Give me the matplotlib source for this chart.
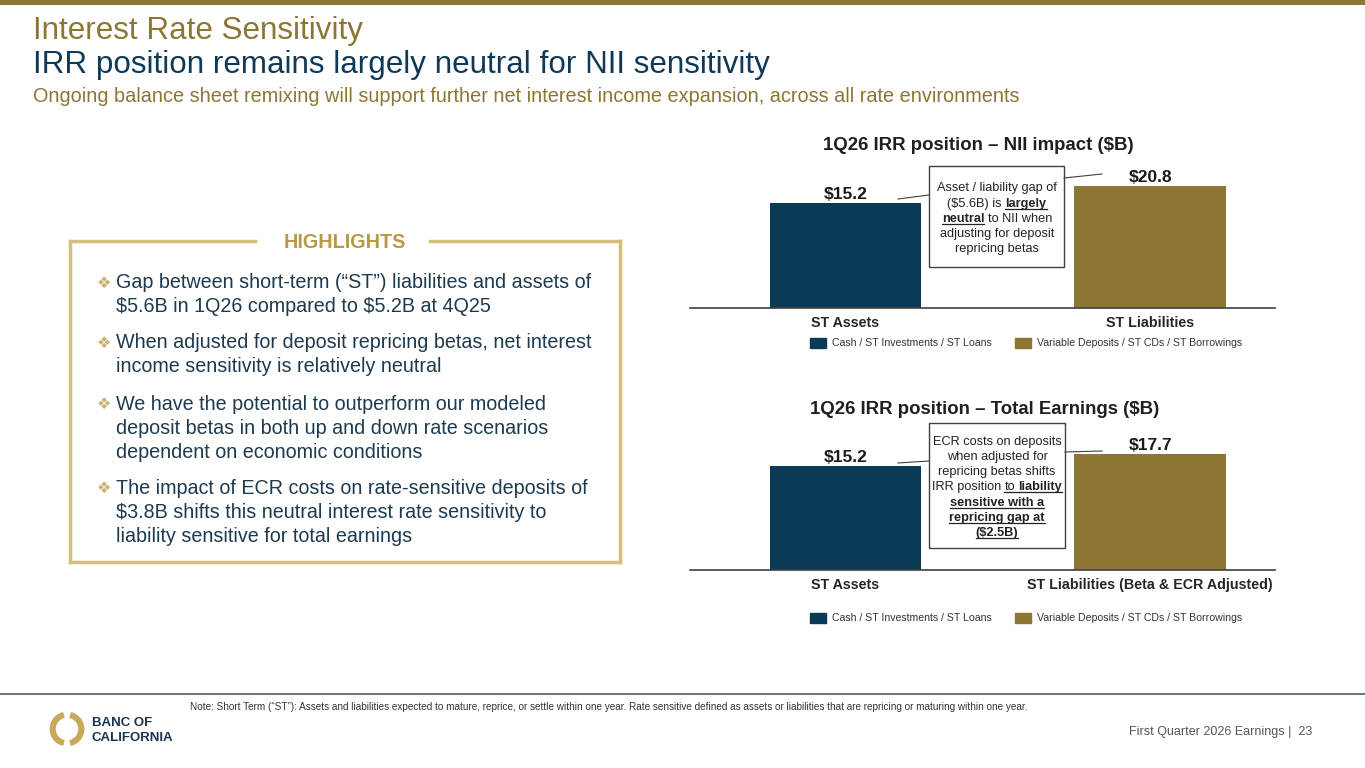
import matplotlib
matplotlib.use("Agg")
from matplotlib import pyplot as plt
from matplotlib.patches import Rectangle, Patch, Wedge
from matplotlib.lines import Line2D
import numpy as np

plt.rcParams['font.family'] = ['Liberation Sans', 'DejaVu Sans']
plt.rcParams['text.parse_math'] = False

# data
categories_nii = ['ST Assets', 'ST Liabilities']
values_nii = [15.2, 20.8]
categories_te = ['ST Assets', 'ST Liabilities (Beta & ECR Adjusted)']
values_te = [15.2, 17.7]
series_labels = ['Cash / ST Investments / ST Loans', 'Variable Deposits / ST CDs / ST Borrowings']

highlights = [
    ['Gap between short-term (\u201cST\u201d) liabilities and assets of',
     '$5.6B in 1Q26 compared to $5.2B at 4Q25'],
    ['When adjusted for deposit repricing betas, net interest',
     'income sensitivity is relatively neutral'],
    ['We have the potential to outperform our modeled',
     'deposit betas in both up and down rate scenarios',
     'dependent on economic conditions'],
    ['The impact of ECR costs on rate-sensitive deposits of',
     '$3.8B shifts this neutral interest rate sensitivity to',
     'liability sensitive for total earnings'],
]

# (text, bold, underline)
box_nii = [
    [('Asset / liability gap of', False, False)],
    [('($5.6B) is', False, False), ('largely', True, True)],
    [('neutral', True, True), ('to NII when', False, False)],
    [('adjusting for deposit', False, False)],
    [('repricing betas', False, False)],
]
box_te = [
    [('ECR costs on deposits', False, False)],
    [('when adjusted for', False, False)],
    [('repricing betas shifts', False, False)],
    [('IRR position', False, False), ('to', False, True), ('liability', True, True)],
    [('sensitive with a', True, True)],
    [('repricing gap at', True, True)],
    [('($2.5B)', True, True)],
]

NAVY = '#0B3A57'
GOLD = '#8C7634'
LIGHT_GOLD = '#D5BE7C'
TEXT = '#1E3A4F'

W, H = 1365, 768
fig = plt.figure(figsize=(13.65, 7.68), dpi=100)
renderer = fig.canvas.get_renderer()


def fx(x):
    return x / W


def fy(y):
    return 1 - y / H


def hline(x0, x1, y0, y1, color='#404040', lw=0.8):
    fig.add_artist(Line2D([fx(x0), fx(x1)], [fy(y0), fy(y1)], transform=fig.transFigure,
                          color=color, lw=lw))


def text_width(s, size, bold):
    t = fig.text(0, 0, s, size=size, weight='bold' if bold else 'normal')
    w = t.get_window_extent(renderer).width
    t.remove()
    return w


def rich_line(cx, y, pieces, size=9.2, color='#222222'):
    # y = baseline in pixels
    space = text_width('a a', size, False) - text_width('aa', size, False)
    widths = [text_width(p[0], size, p[1]) for p in pieces]
    total = sum(widths) + space * (len(pieces) - 1)
    x = cx - total / 2
    for i, (s, bold, ul) in enumerate(pieces):
        fig.text(fx(x), fy(y), s, size=size, weight='bold' if bold else 'normal',
                 color=color, ha='left', va='baseline')
        if ul:
            x_end = x + widths[i]
            if i + 1 < len(pieces) and pieces[i + 1][2]:
                x_end += space
            hline(x, x_end, y + 2, y + 2, color=color, lw=0.9)
        x += widths[i] + space


# top gold strip
fig.add_artist(Rectangle((0, fy(5)), 1, 5 / H, transform=fig.transFigure, color=GOLD, lw=0))

# titles
fig.text(fx(33), fy(31), 'Interest Rate Sensitivity', size=22.6, color=GOLD, va='center')
fig.text(fx(33), fy(65), 'IRR position remains largely neutral for NII sensitivity', size=22.6,
         color='#0E3A57', va='center')
fig.text(fx(33), fy(96), 'Ongoing balance sheet remixing will support further net interest income '
         'expansion, across all rate environments', size=14.3, color=GOLD, va='center')

# highlights box
for seg in [(70, 255, 241, 241), (430, 620, 241, 241), (70, 70, 241, 562),
            (620, 620, 241, 562), (70, 620, 562, 562)]:
    hline(seg[0], seg[1], seg[2], seg[3], color=LIGHT_GOLD, lw=2.5)
fig.text(fx(345), fy(242), 'HIGHLIGHTS', size=14.2, weight='bold', color='#B8994A',
         ha='center', va='center')
starts = [283, 343, 404, 488]
for lines, y0 in zip(highlights, starts):
    fig.text(fx(104), fy(y0), '\u2756', size=11.5, color='#C9B170', ha='center', va='center',
             family='DejaVu Sans')
    for k, line in enumerate(lines):
        fig.text(fx(116), fy(y0 + 24 * k), line, size=14.2, color=TEXT, va='center')


def bar_chart(top_px, base_px, floor, top_val, cats, vals, title, title_x, title_y, legend_y):
    ax = fig.add_axes([fx(690), fy(base_px), fx(1275) - fx(690), (base_px - top_px) / H])
    x = np.arange(len(cats))
    vals = np.array(vals)
    ax.bar(x, vals - floor, bottom=floor, width=0.497, color=[NAVY, GOLD])
    ax.set_xlim(-0.51, 1.41)
    ax.set_ylim(floor, top_val)
    for i, v in enumerate(vals):
        ax.annotate(f'${v:.1f}', (i, v), xytext=(0, 0.5), textcoords='offset points',
                    ha='center', va='bottom', size=12.5, weight='bold', color='#1A1A1A')
    for s in ['top', 'left', 'right']:
        ax.spines[s].set_visible(False)
    ax.spines['bottom'].set_color('#404040')
    ax.spines['bottom'].set_linewidth(1.2)
    ax.set_yticks([])
    ax.set_xticks(x)
    ax.set_xticklabels(cats, size=10.25, weight='bold', color='#262626')
    ax.tick_params(axis='x', length=0, pad=6)
    ax.patch.set_alpha(0)
    fig.text(fx(title_x), fy(title_y), title, size=13.4, weight='bold', color='#1F1F1F',
             ha='center', va='center')
    handles = [Patch(color=NAVY, label=series_labels[0]), Patch(color=GOLD, label=series_labels[1])]
    fig.legend(handles=handles, loc='center left', bbox_to_anchor=(fx(810), fy(legend_y)),
               ncol=2, frameon=False, fontsize=7.6, handlelength=1.5, handleheight=1.05,
               handletextpad=0.6, columnspacing=2.2, borderpad=0, borderaxespad=0,
               labelcolor='#333333')
    return ax


bar_chart(150, 308, -19.4, 32.6, categories_nii, values_nii,
          '1Q26 IRR position \u2013 NII impact ($B)', 978, 146, 343)
bar_chart(420, 570, -6.5, 24.75, categories_te, values_te,
          '1Q26 IRR position \u2013 Total Earnings ($B)', 985, 410, 618)

# annotation boxes
fig.add_artist(Rectangle((fx(929), fy(267)), (1064 - 929) / W, (267 - 166) / H,
                         transform=fig.transFigure, facecolor='white', edgecolor='#404040', lw=1))
for k, pieces in enumerate(box_nii):
    rich_line(997, 187 + 15.2 * k + 4.5, pieces)
hline(898, 929, 199, 195)
hline(1064, 1102, 178, 174)

fig.add_artist(Rectangle((fx(929), fy(548)), (1065 - 929) / W, (548 - 423) / H,
                         transform=fig.transFigure, facecolor='white', edgecolor='#404040', lw=1))
for k, pieces in enumerate(box_te):
    rich_line(997, 440 + 15.3 * k + 4.5, pieces)
hline(898, 929, 463, 461)
hline(1065, 1102, 452, 451)

# footer
hline(0, 1365, 694, 694, color='#505a60', lw=1.2)
fig.text(fx(190), fy(707), 'Note: Short Term (\u201cST\u201d): Assets and liabilities expected to mature, '
         'reprice, or settle within one year. Rate sensitive defined as assets or liabilities that are '
         'repricing or maturing within one year.', size=7.2, color='#333333', va='center')
fig.text(fx(1312), fy(732), 'First Quarter 2026 Earnings |  23', size=9, color='#555555',
         ha='right', va='center')

ax_logo = fig.add_axes([fx(48), fy(748), 38 / W, 38 / H])
ax_logo.set_xlim(-1, 1)
ax_logo.set_ylim(-1, 1)
ax_logo.set_aspect('equal')
ax_logo.axis('off')
ax_logo.add_patch(Wedge((0, 0), 0.88, 105, 255, width=0.25, color='#C8A95A'))
ax_logo.add_patch(Wedge((0, 0), 0.88, -75, 75, width=0.25, color='#C8A95A'))
fig.text(fx(92), fy(723), 'BANC OF', size=9.5, weight='bold', color='#1C3550', va='center')
fig.text(fx(92), fy(738), 'CALIFORNIA', size=9.5, weight='bold', color='#1C3550', va='center')

fig.savefig('out.png', dpi=100)
